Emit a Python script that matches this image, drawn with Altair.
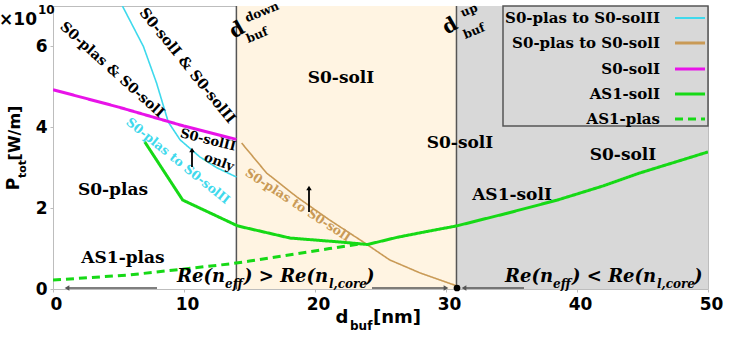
import altair as alt
import pandas as pd

# ---------------- data ----------------
x_ticks = [0, 10, 20, 30, 40, 50]
y_ticks = [0, 2, 4, 6]

region_start = [14.0, 30.8]
region_end = [30.8, 50.0]
region_color = ["#fff4e2", "#d8d8d8"]

cyan_x = [5.3, 6.9, 7.9, 8.8, 9.7, 11.2, 12.5, 14.0]
cyan_y = [7.0, 6.0, 5.1, 4.13, 3.69, 3.27, 3.0, 2.77]

brown_x = [14.4, 16.3, 18.6, 21.1, 23.7, 25.7, 28.0, 30.8]
brown_y = [3.61, 2.87, 2.28, 1.71, 1.16, 0.72, 0.40, 0.08]

magenta_x = [0.0, 5.0, 10.0, 14.0]
magenta_y = [4.93, 4.50, 4.03, 3.70]

green_x = [7.0, 9.9, 14.1, 18.1, 22.4, 24.0, 26.3, 28.5, 30.8, 34.5, 38.5, 42.0, 44.8, 50.0]
green_y = [3.64, 2.20, 1.56, 1.26, 1.15, 1.10, 1.28, 1.42, 1.56, 1.86, 2.20, 2.55, 2.87, 3.39]

dash_x = [0.0, 5.9, 13.5, 15.0, 21.1, 23.5]
dash_y = [0.22, 0.35, 0.62, 0.69, 1.00, 1.12]

series_names = ["S0-plas to S0-solII", "S0-plas to S0-solI", "S0-solI", "AS1-solI", "AS1-plas"]
series_colors = ["#3fd9ec", "#c99a56", "#e813e8", "#16d916", "#16d916"]
series_widths = [1.6, 1.6, 3.0, 3.0, 3.0]
series_dash = [[1, 0], [1, 0], [1, 0], [1, 0], [8, 5]]
series_x = [cyan_x, brown_x, magenta_x, green_x, dash_x]
series_y = [cyan_y, brown_y, magenta_y, green_y, dash_y]

SERIF = "DejaVu Serif"
SANS = "DejaVu Sans"
W, H = 655, 283
LEFT, TOP = 53, 6

xs = alt.Scale(domain=[0, 50], nice=False, zero=False)
ys = alt.Scale(domain=[0, 7], nice=False, zero=True)

dummy = pd.DataFrame({"d": [0]})


def label(px, py, t, size=15, angle=0, color="black", font=SERIF, weight="bold",
          style="normal", align="center", baseline="middle"):
    return alt.Chart(dummy).mark_text(
        text=t, fontSize=size, angle=angle % 360, color=color, font=font,
        fontWeight=weight, fontStyle=style, align=align, baseline=baseline
    ).encode(x=alt.value(px - LEFT), y=alt.value(py - TOP))


def hline(x1, x2, y, color="#555555", w=1.5):
    return alt.Chart(dummy).mark_rule(color=color, strokeWidth=w).encode(
        x=alt.value(x1 - LEFT), x2=alt.value(x2 - LEFT), y=alt.value(y - TOP))


def vline(x, y1, y2, color="black", w=1.8):
    return alt.Chart(dummy).mark_rule(color=color, strokeWidth=w).encode(
        x=alt.value(x - LEFT), y=alt.value(y1 - TOP), y2=alt.value(y2 - TOP))


def pt(px, py, shape, size=40, color="black"):
    return alt.Chart(dummy).mark_point(shape=shape, filled=True, size=size, color=color, opacity=1).encode(
        x=alt.value(px - LEFT), y=alt.value(py - TOP))


def re_label(x0, sign):
    return [
        label(x0, 277, "Re(n", 18, style="italic", align="left"),
        label(x0 + 48, 284, "eff", 12, style="italic", align="left"),
        label(x0 + 67, 277, ") " + sign + " Re(n", 18, style="italic", align="left"),
        label(x0 + 152, 284, "l,core", 12, style="italic", align="left"),
        label(x0 + 189, 277, ")", 18, style="italic", align="left"),
    ]


# ---------------- regions ----------------
regions = alt.Chart(pd.DataFrame({"x0": region_start, "x1": region_end, "c": region_color})).mark_rect().encode(
    x=alt.X("x0:Q", scale=xs,
            axis=alt.Axis(values=x_ticks, title=None, labelOffset=3, labelPadding=4, tickSize=3,
                          domain=False, labelFlush=False)),
    x2="x1:Q",
    y=alt.value(0), y2=alt.value(H),
    color=alt.Color("c:N", scale=None),
)

bounds = alt.Chart(pd.DataFrame({"x": region_start})).mark_rule(color="#555555", strokeWidth=1.5).encode(
    x=alt.X("x:Q", scale=xs), y=alt.value(0), y2=alt.value(H))

# ---------------- series ----------------
layers = [regions, bounds]
for name, col, sw, dash, sx, sy in zip(series_names, series_colors, series_widths, series_dash, series_x, series_y):
    df = pd.DataFrame({"x": sx, "y": sy, "s": name})
    layers.append(
        alt.Chart(df).mark_line(color=col, strokeWidth=sw, strokeDash=dash, clip=True).encode(
            x=alt.X("x:Q", scale=xs),
            y=alt.Y("y:Q", scale=ys,
                    axis=alt.Axis(values=y_ticks, title=None, labelPadding=3, tickSize=3, domain=True,
                                  labelFlush=False)),
        )
    )

# ---------------- annotations ----------------
ann = [
    label(112, 70, "S0-plas & S0-solI", 14, 42),
    label(187, 66, "S0-solI & S0-solII", 14.5, 51),
    label(208, 140, "S0-solII", 13, 14),
    label(219, 162, "only", 13, 20),
    label(178, 161, "S0-plas to S0-solII", 12.5, 39, color="#3fd9ec"),
    label(298, 205, "S0-plas to S0-solI", 12.5, 33, color="#c99a56"),
    label(341, 78, "S0-solI", 17),
    label(460, 143, "S0-solI", 17),
    label(623, 155, "S0-solI", 17),
    label(512, 195, "AS1-solI", 17),
    label(113, 190, "S0-plas", 17),
    label(123, 258, "AS1-plas", 17),
    # d_buf^down / d_buf^up
    label(237, 30, "d", 20, -30),
    label(262, 12, "down", 12, -22),
    label(257, 35, "buf", 12, -22),
    label(450, 26, "d", 20, -30),
    label(469, 10, "up", 12, -22),
    label(474, 31, "buf", 12, -22),
    *re_label(177, ">"),
    *re_label(505, "<"),
    # arrows
    vline(192, 167, 151), pt(192, 150, "triangle-up", 30),
    vline(309, 212, 189), pt(309, 188, "triangle-up", 30),
    hline(68, 157, 288), pt(67, 288, "triangle-left", 30, "#555555"),
    hline(372, 444, 288), pt(446, 288, "triangle-right", 30, "#555555"),
    hline(466, 524, 288), pt(464, 288, "triangle-left", 30, "#555555"),
    pt(457, 288, "circle", 45),
    # axis titles
    label(37, 20, "×10", 17, font=SANS, align="right"),
    label(38, 10, "10", 12, font=SANS, align="left"),
    label(14, 184, "P", 17, 270, font=SANS),
    label(23, 169, "tot", 11, 270, font=SANS),
    label(15, 133, "[W/m]", 16, 270, font=SANS),
    label(342, 318, "d", 18, font=SANS),
    label(350, 326, "buf", 12, font=SANS, align="left"),
    label(373, 318, "[nm]", 18, font=SANS, align="left"),
]

# ---------------- legend ----------------
leg_y = [18, 43, 69, 94, 119]
legend = [
    alt.Chart(dummy).mark_rect(fill="#d8d8d8", stroke="#555555", strokeWidth=1.5).encode(
        x=alt.value(503 - LEFT), x2=alt.value(W), y=alt.value(0), y2=alt.value(126 - TOP))
]
for name, col, dash, yy in zip(series_names, series_colors, series_dash, leg_y):
    legend.append(label(660, yy, name, 15, align="right"))
    legend.append(alt.Chart(dummy).mark_rule(color=col, strokeWidth=3 if col != series_colors[0] else 2.2,
                                             strokeDash=dash).encode(
        x=alt.value(675 - LEFT), x2=alt.value(705 - LEFT), y=alt.value(yy - TOP)))

chart = alt.layer(*layers, *ann, *legend).properties(
    width=W, height=H,
    padding={"left": LEFT, "top": TOP, "right": 733 - LEFT - W, "bottom": 338 - TOP - H},
    autosize=alt.AutoSizeParams(type="none"),
).configure_view(stroke="#bdbdbd", strokeWidth=1).configure_axis(
    grid=False, labelFont=SANS, labelFontWeight="bold", labelFontSize=17, labelColor="black",
    domainColor="#bdbdbd", tickColor="#bdbdbd",
)

chart.save("out.html", embed_options={"renderer": "svg", "actions": False})
